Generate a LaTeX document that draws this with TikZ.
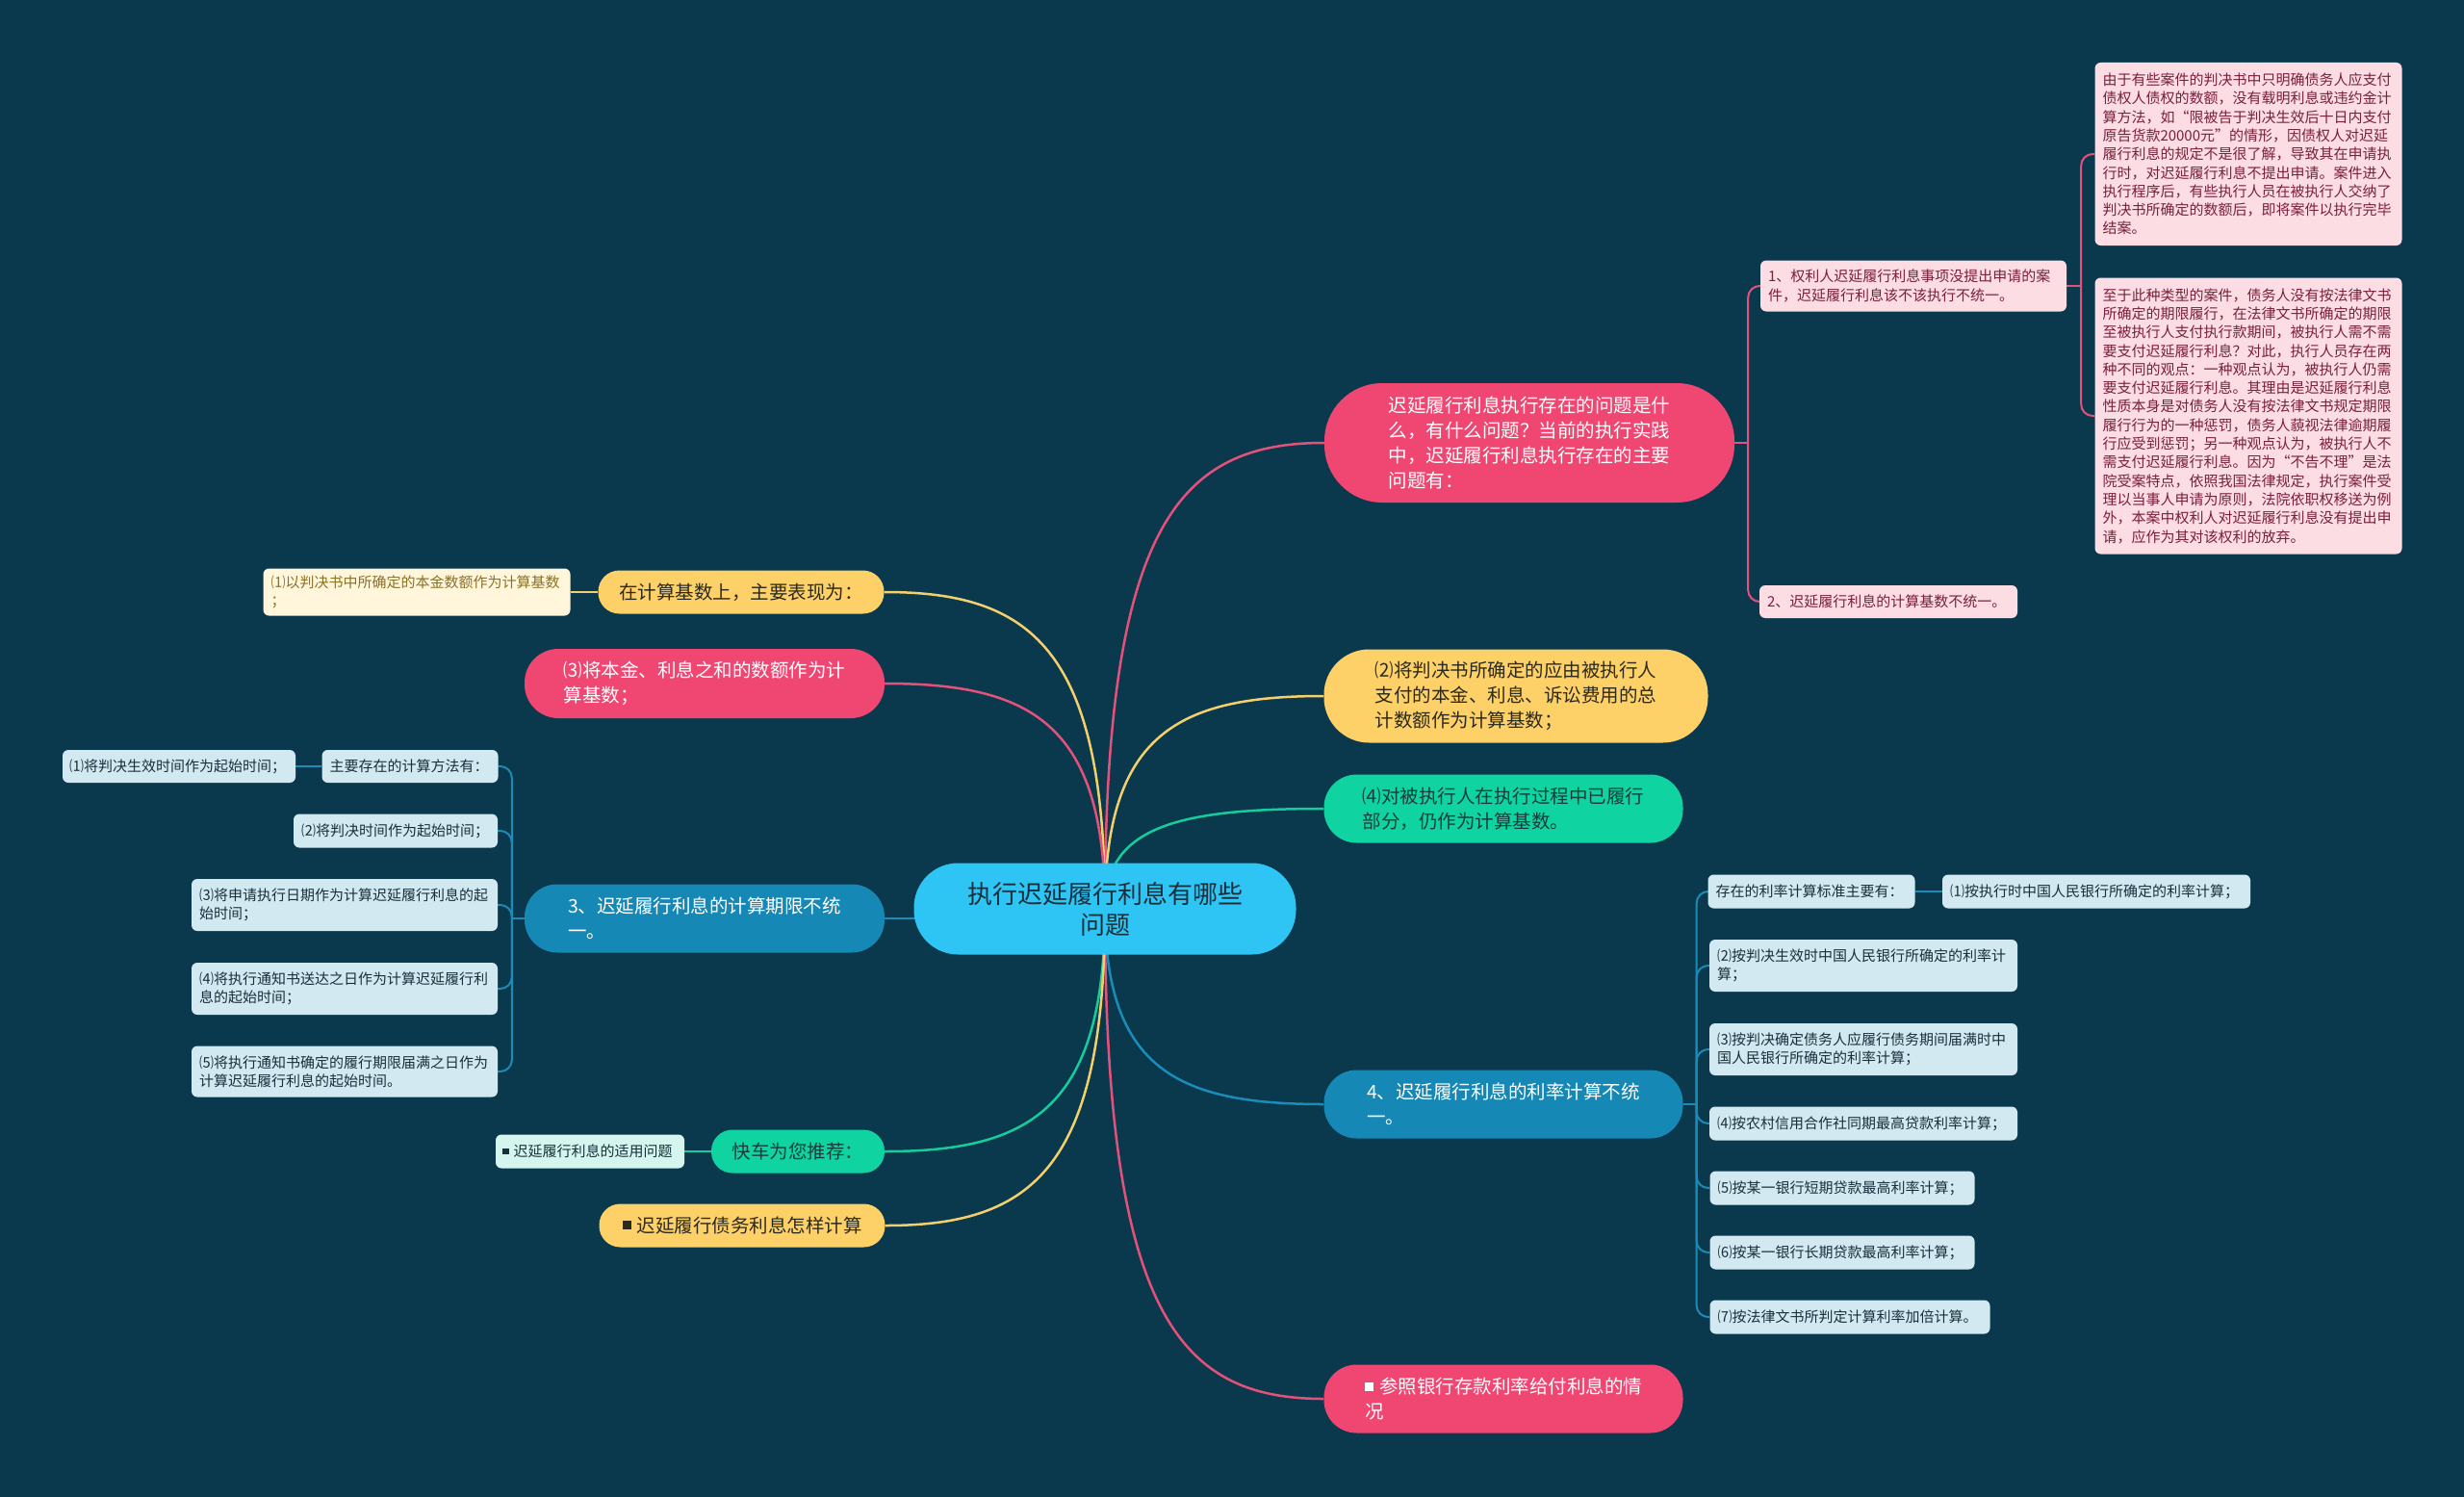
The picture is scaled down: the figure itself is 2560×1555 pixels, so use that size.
\documentclass[tikz,border=0pt]{standalone}
\usepackage{fontspec}
\setmainfont{Noto Sans CJK SC}
\pgfdeclarelayer{edges}
\pgfsetlayers{edges,main}
\definecolor{bgc}{HTML}{0A394D}
\definecolor{cen}{HTML}{2EC4F3}
\definecolor{pinkc}{HTML}{EF4772}
\definecolor{yelc}{HTML}{FDD068}
\definecolor{grnc}{HTML}{0FD3A0}
\definecolor{bluc}{HTML}{1688B5}
\definecolor{lpink}{HTML}{FCDDE3}
\definecolor{lblue}{HTML}{D3E9F1}
\definecolor{lyel}{HTML}{FFF6DC}
\definecolor{lmint}{HTML}{D5F6EE}
\definecolor{darkt}{HTML}{17303C}
\definecolor{pinkt}{HTML}{7A1F3D}
\definecolor{yelt}{HTML}{8A7224}
\definecolor{olivt}{HTML}{2A2A1E}
\definecolor{grnt}{HTML}{173C3C}
\definecolor{pinkl}{HTML}{E4517B}
\definecolor{yell}{HTML}{F4D06C}
\definecolor{grnl}{HTML}{16CC9C}
\definecolor{blul}{HTML}{1B8BB8}
\tikzset{
  pill/.style={rectangle, inner sep=0pt, align=left, font=\fontsize{19.5}{26}\selectfont},
  box/.style={rectangle, rounded corners=6pt, inner xsep=8pt, inner ysep=0pt, align=left, font=\fontsize{15}{19.3}\selectfont},
  con/.style={line width=2.5pt},
  sub/.style={line width=2pt, rounded corners=12pt},
}
\newcommand{\sqb}{\rule[3pt]{9pt}{9pt}\hspace{6pt}}
\newcommand{\sqs}{\rule[2.5pt]{6.5pt}{6.5pt}\hspace{5pt}}
\begin{document}
\begin{tikzpicture}[x=1pt,y=-1pt]
% ---------- center ----------
\node[pill, align=center, fill=cen, text=darkt, font=\fontsize{26}{32}\selectfont,
  minimum width=397pt, minimum height=95pt, rounded corners=46pt] (C) at (1148,944)
  {执行迟延履行利息有哪些\\问题};
% ---------- right side ----------
\node[pill, fill=pinkc, text=white, minimum width=426pt, minimum height=124pt, rounded corners=60pt] (R1) at (1589,460)
  {迟延履行利息执行存在的问题是什\\么，有什么问题？当前的执行实践\\中，迟延履行利息执行存在的主要\\问题有：};
\node[box, fill=lpink, text=pinkt, text width=302pt, minimum height=53pt] (R1a) at (1988,297)
  {1、权利人迟延履行利息事项没提出申请的案\\件，迟延履行利息该不该执行不统一。};
\node[box, fill=lpink, text=pinkt, text width=252pt, minimum height=34pt] (R1b) at (1962,625)
  {2、迟延履行利息的计算基数不统一。};
\node[box, fill=lpink, text=pinkt, text width=303pt, minimum height=190pt] (A) at (2336,160)
  {由于有些案件的判决书中只明确债务人应支付\\债权人债权的数额，没有载明利息或违约金计\\算方法，如“限被告于判决生效后十日内支付\\原告货款20000元”的情形，因债权人对迟延\\履行利息的规定不是很了解，导致其在申请执\\行时，对迟延履行利息不提出申请。案件进入\\执行程序后，有些执行人员在被执行人交纳了\\判决书所确定的数额后，即将案件以执行完毕\\结案。};
\node[box, fill=lpink, text=pinkt, text width=303pt, minimum height=287pt] (B) at (2336,432)
  {至于此种类型的案件，债务人没有按法律文书\\所确定的期限履行，在法律文书所确定的期限\\至被执行人支付执行款期间，被执行人需不需\\要支付迟延履行利息？对此，执行人员存在两\\种不同的观点：一种观点认为，被执行人仍需\\要支付迟延履行利息。其理由是迟延履行利息\\性质本身是对债务人没有按法律文书规定期限\\履行行为的一种惩罚，债务人藐视法律逾期履\\行应受到惩罚；另一种观点认为，被执行人不\\需支付迟延履行利息。因为“不告不理”是法\\院受案特点，依照我国法律规定，执行案件受\\理以当事人申请为原则，法院依职权移送为例\\外，本案中权利人对迟延履行利息没有提出申\\请，应作为其对该权利的放弃。};
\node[pill, fill=yelc, text=olivt, minimum width=399pt, minimum height=97pt, rounded corners=47pt] (R2) at (1575,723)
  {⑵将判决书所确定的应由被执行人\\支付的本金、利息、诉讼费用的总\\计数额作为计算基数；};
\node[pill, fill=grnc, text=grnt, minimum width=373pt, minimum height=71pt, rounded corners=34pt] (R3) at (1562,840)
  {⑷对被执行人在执行过程中已履行\\部分，仍作为计算基数。};
\node[pill, fill=bluc, text=white, minimum width=373pt, minimum height=71pt, rounded corners=34pt] (R4) at (1562,1147)
  {4、迟延履行利息的利率计算不统\\一。};
\node[box, fill=lblue, text=darkt, text width=199pt, minimum height=35pt] (R4a) at (1882,926)
  {存在的利率计算标准主要有：};
\node[box, fill=lblue, text=darkt, text width=304pt, minimum height=35pt] (R4a1) at (2178,926)
  {⑴按执行时中国人民银行所确定的利率计算；};
\node[box, fill=lblue, text=darkt, text width=304pt, minimum height=54pt] (R4b) at (1936,1003)
  {⑵按判决生效时中国人民银行所确定的利率计\\算；};
\node[box, fill=lblue, text=darkt, text width=304pt, minimum height=54pt] (R4c) at (1936,1090)
  {⑶按判决确定债务人应履行债务期间届满时中\\国人民银行所确定的利率计算；};
\node[box, fill=lblue, text=darkt, text width=304pt, minimum height=35pt] (R4d) at (1936,1167)
  {⑷按农村信用合作社同期最高贷款利率计算；};
\node[box, fill=lblue, text=darkt, text width=259pt, minimum height=35pt] (R4e) at (1914,1234)
  {⑸按某一银行短期贷款最高利率计算；};
\node[box, fill=lblue, text=darkt, text width=259pt, minimum height=35pt] (R4f) at (1914,1301)
  {⑹按某一银行长期贷款最高利率计算；};
\node[box, fill=lblue, text=darkt, text width=275pt, minimum height=35pt] (R4g) at (1922,1368)
  {⑺按法律文书所判定计算利率加倍计算。};
\node[pill, fill=pinkc, text=white, minimum width=373pt, minimum height=71pt, rounded corners=34pt] (R5) at (1562,1453)
  {\sqb 参照银行存款利率给付利息的情\\况};
% ---------- left side ----------
\node[pill, fill=yelc, text=olivt, minimum width=297pt, minimum height=45pt, rounded corners=22pt] (L1) at (770,615)
  {在计算基数上，主要表现为：};
\node[box, fill=lyel, text=yelt, text width=303pt, minimum height=49pt] (L1a) at (433,615)
  {⑴以判决书中所确定的本金数额作为计算基数\\；};
\node[pill, fill=pinkc, text=white, minimum width=374pt, minimum height=72pt, rounded corners=35pt] (L2) at (732,710)
  {⑶将本金、利息之和的数额作为计\\算基数；};
\node[pill, fill=bluc, text=white, minimum width=374pt, minimum height=71pt, rounded corners=34pt] (L3) at (732,954)
  {3、迟延履行利息的计算期限不统\\一。};
\node[box, fill=lblue, text=darkt, text width=167pt, minimum height=34pt] (L3a) at (426,796)
  {主要存在的计算方法有：};
\node[box, fill=lblue, text=darkt, text width=228pt, minimum height=34pt, inner xsep=7pt] (L3a1) at (186,796)
  {⑴将判决生效时间作为起始时间；};
\node[box, fill=lblue, text=darkt, text width=196pt, minimum height=35pt] (L3b) at (411,863)
  {⑵将判决时间作为起始时间；};
\node[box, fill=lblue, text=darkt, text width=302pt, minimum height=54pt] (L3c) at (358,940)
  {⑶将申请执行日期作为计算迟延履行利息的起\\始时间；};
\node[box, fill=lblue, text=darkt, text width=302pt, minimum height=54pt] (L3d) at (358,1027)
  {⑷将执行通知书送达之日作为计算迟延履行利\\息的起始时间；};
\node[box, fill=lblue, text=darkt, text width=302pt, minimum height=53pt] (L3e) at (358,1113)
  {⑸将执行通知书确定的履行期限届满之日作为\\计算迟延履行利息的起始时间。};
\node[pill, fill=grnc, text=grnt, minimum width=180pt, minimum height=45pt, rounded corners=22pt] (L4) at (829,1196)
  {快车为您推荐：};
\node[box, fill=lmint, text=darkt, text width=182pt, minimum height=35pt, inner xsep=7pt] (L4a) at (613,1196)
  {\sqs 迟延履行利息的适用问题};
\node[pill, fill=yelc, text=olivt, minimum width=297pt, minimum height=45pt, rounded corners=22pt] (L5) at (771,1273)
  {\sqb 迟延履行债务利息怎样计算};
% ---------- bracket junctions ----------
\coordinate (b1) at ([xshift=14pt]R1.east);
\coordinate (b2) at ([xshift=15pt]R1a.east);
\coordinate (b4) at ([xshift=14pt]R4.east);
\coordinate (b3) at ([xshift=-13pt]L3.west);
% ---------- connectors ----------
\begin{pgfonlayer}{edges}
\fill[bgc] (0,0) rectangle (2560,1555);
\draw[con, pinkl] (C.center) .. controls +(0,-400) and +(-150,0) .. (R1.west);
\draw[con, yell]  (C.center) .. controls +(0,-183) and +(-150,0) .. (R2.west);
\draw[con, grnl]  (C.center) .. controls +(0,-86) and +(-150,0) .. (R3.west);
\draw[con, blul]  (C.center) .. controls +(0,168) and +(-150,0) .. (R4.west);
\draw[con, pinkl] (C.center) .. controls +(0,422) and +(-150,0) .. (R5.west);
\draw[con, yell]  (C.center) .. controls +(0,-273) and +(150,0) .. (L1.east);
\draw[con, pinkl] (C.center) .. controls +(0,-194) and +(150,0) .. (L2.east);
\draw[con, blul]  (L3.east) -- (L3.east -| C.center);
\draw[con, grnl]  (C.center) .. controls +(0,209) and +(150,0) .. (L4.east);
\draw[con, yell]  (C.center) .. controls +(0,273) and +(150,0) .. (L5.east);
% right brackets
\draw[sub, pinkl] (R1.east) -- (b1);
\draw[sub, pinkl] (b1) |- (R1a.west);
\draw[sub, pinkl] (b1) |- (R1b.west);
\draw[sub, pinkl] (R1a.east) -- (b2);
\draw[sub, pinkl] (b2) |- (A.west);
\draw[sub, pinkl] (b2) |- (B.west);
\draw[sub, blul] (R4.east) -- (b4);
\foreach \n in {R4a,R4b,R4c,R4d,R4e,R4f,R4g} {\draw[sub, blul] (b4) |- (\n.west);}
\draw[sub, blul] (R4a.east) -- (R4a1.west);
% left brackets
\draw[sub, yell] (L1.west) -- (L1a.east);
\draw[sub, blul] (L3.west) -- (b3);
\foreach \n in {L3a,L3b,L3c,L3d,L3e} {\draw[sub, blul] (b3) |- (\n.east);}
\draw[sub, blul] (L3a.west) -- (L3a1.east);
\draw[sub, grnl] (L4.west) -- (L4a.east);
\end{pgfonlayer}
\end{tikzpicture}
\end{document}
